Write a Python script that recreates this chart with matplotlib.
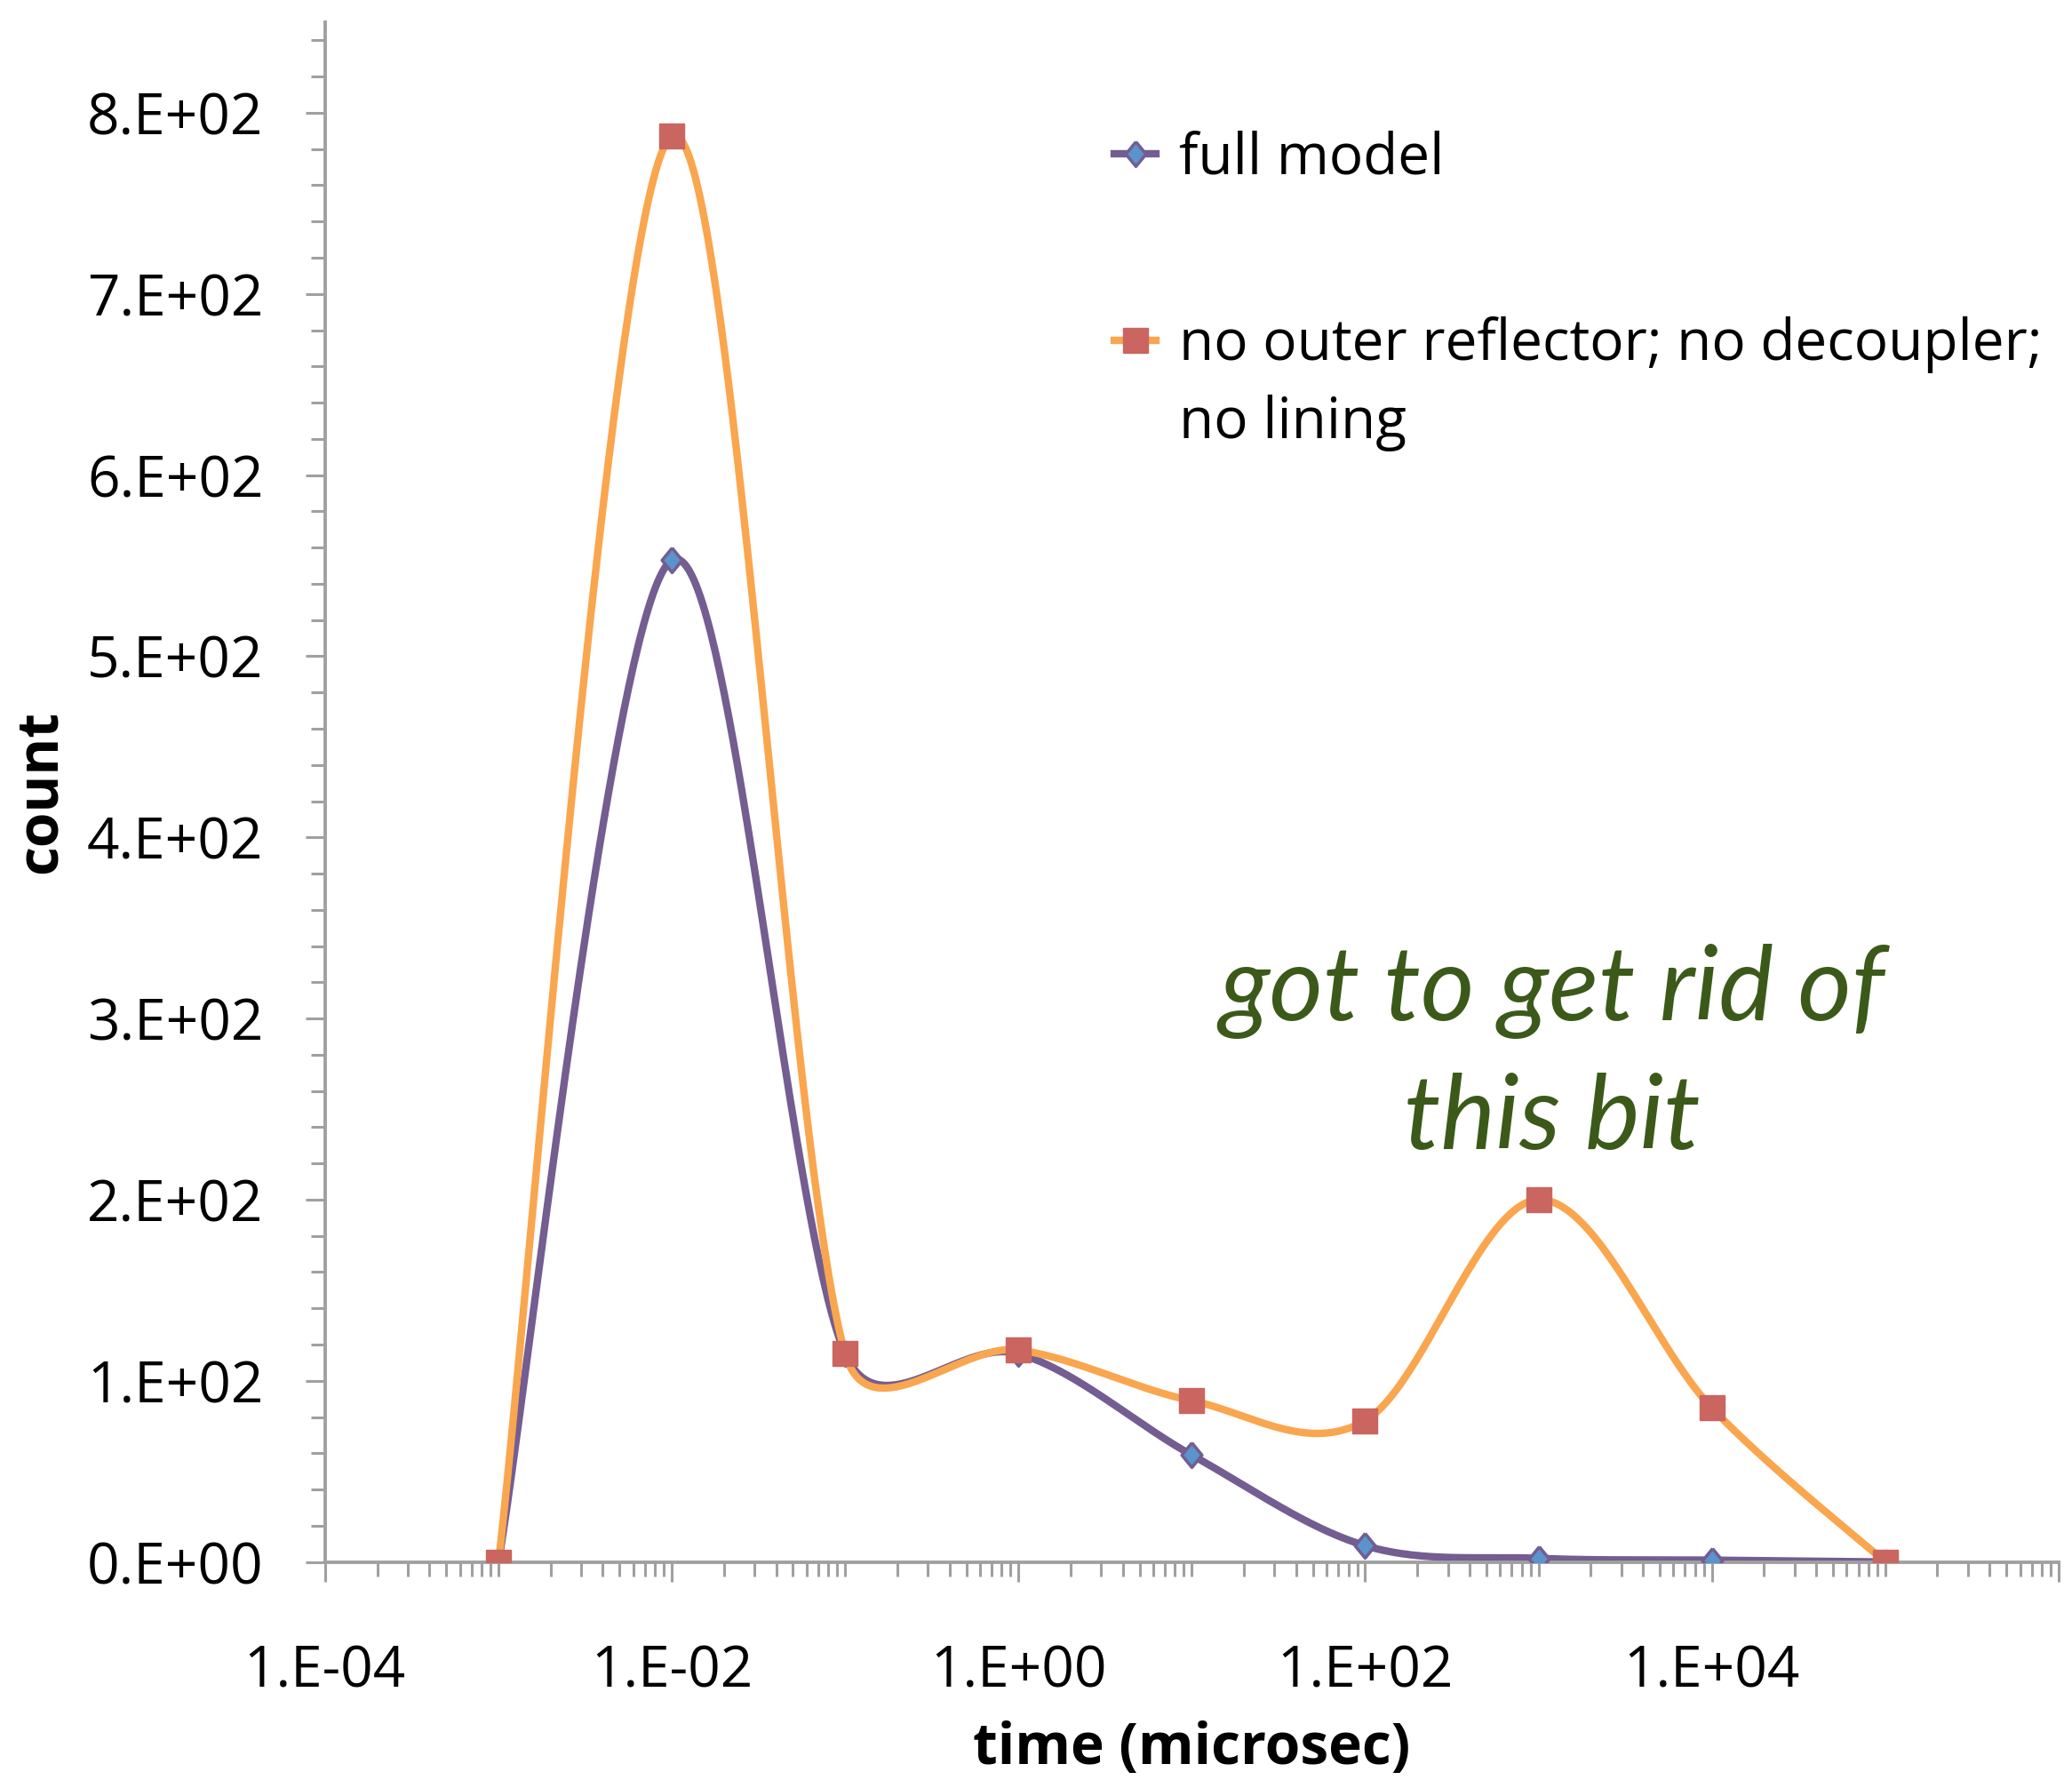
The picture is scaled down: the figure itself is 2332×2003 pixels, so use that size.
import matplotlib
matplotlib.use("Agg")
import matplotlib.pyplot as plt
import numpy as np
from matplotlib.ticker import FixedLocator, FuncFormatter, MultipleLocator
from matplotlib.lines import Line2D

# measured counts per time bin
time_us = [1e-3, 1e-2, 1e-1, 1e0, 1e1, 1e2, 1e3, 1e4, 1e5]
full_model = [0, 553, 115, 115, 59, 9, 2, 1, 0]
no_reflector = [0, 787, 115, 117, 89, 78, 200, 85, 0]

series_labels = ["full model", "no outer reflector; no decoupler;", "no lining"]
note_text = "got to get rid of\nthis bit"

purple = "#735D91"
orange = "#F9A64F"
diamond_fill = "#5B93CC"
square_fill = "#CA6560"
axis_grey = "#A0A0A0"
note_green = "#3B5A1A"

# upright diamond, a little narrower than tall
diamond = [(0, 1), (0.82, 0), (0, -1), (-0.82, 0), (0, 1)]


def smooth_curve(x, y, px_decade=195.0, px_unit=2.04, n=80):
    # Bezier smoothing in screen-like units; tangents are 1/6 of the neighbour
    # chord, capped at half the length of the segment they belong to
    pts = np.column_stack([np.log10(np.asarray(x, float)) * px_decade,
                           np.asarray(y, float) * px_unit])
    last = len(pts) - 1

    def tangent(i):
        a = pts[max(i - 1, 0)]
        b = pts[min(i + 1, last)]
        return (b - a) / 6.0

    def capped(t, seg_len):
        ln = np.hypot(*t)
        lim = 0.5 * seg_len
        return t * (lim / ln) if ln > lim else t

    out = []
    for i in range(last):
        p1, p2 = pts[i], pts[i + 1]
        seg_len = np.hypot(*(p2 - p1))
        c1 = p1 + capped(tangent(i), seg_len)
        c2 = p2 - capped(tangent(i + 1), seg_len)
        t = np.linspace(0, 1, n)[:, None]
        seg = ((1 - t) ** 3) * p1 + 3 * ((1 - t) ** 2) * t * c1 + 3 * (1 - t) * t ** 2 * c2 + t ** 3 * p2
        out.append(seg if i == 0 else seg[1:])
    out = np.vstack(out)
    return 10 ** (out[:, 0] / px_decade), out[:, 1] / px_unit


plt.rcParams["font.family"] = ["Open Sans", "DejaVu Sans"]

fig = plt.figure(figsize=(23.32, 20.03), dpi=100)
ax = fig.add_axes([0.1569, 0.1225, 0.8366, 0.8650])

for xs, ys, col in [(time_us, full_model, purple), (time_us, no_reflector, orange)]:
    sx, sy = smooth_curve(xs, ys)
    ax.plot(sx, sy, color=col, lw=6, solid_capstyle="round", zorder=2)

ax.plot(time_us, full_model, ls="none", marker=diamond, ms=20, mfc=diamond_fill,
        mec=purple, mew=2.5, zorder=3)
ax.plot(time_us, no_reflector, ls="none", marker="s", ms=20, mfc=square_fill,
        mec=square_fill, mew=1, zorder=4)

ax.set_xscale("log")
ax.set_xlim(1e-4, 1e6)
ax.set_ylim(0, 850)

ax.xaxis.set_major_locator(FixedLocator([1e-4, 1e-2, 1e0, 1e2, 1e4, 1e6]))
minor_x = [m * 10.0 ** e for e in range(-4, 6) for m in range(1, 10) if not (m == 1 and e % 2 == 0)]
ax.xaxis.set_minor_locator(FixedLocator(minor_x))


def sci_label(v, pos):
    if v == 0:
        return "0.E+00"
    e = int(np.floor(np.log10(abs(v)) + 1e-9))
    m = int(round(v / 10 ** e))
    return f"{m}.E{'+' if e >= 0 else '-'}{abs(e):02d}"


def x_label(v, pos):
    if v >= 1e6:
        return ""
    return sci_label(v, pos)


ax.xaxis.set_major_formatter(FuncFormatter(x_label))
ax.xaxis.set_minor_formatter(FuncFormatter(lambda v, p: ""))
ax.yaxis.set_major_locator(MultipleLocator(100))
ax.yaxis.set_minor_locator(MultipleLocator(20))
ax.yaxis.set_major_formatter(FuncFormatter(sci_label))

for side in ["top", "right"]:
    ax.spines[side].set_visible(False)
for side in ["left", "bottom"]:
    ax.spines[side].set_color(axis_grey)
    ax.spines[side].set_linewidth(2.8)

ax.tick_params(which="major", length=16, width=2.2, color=axis_grey, labelsize=46)
ax.tick_params(which="minor", length=11.5, width=2.2, color=axis_grey)
ax.tick_params(axis="y", which="major", pad=34)
ax.tick_params(axis="x", which="major", pad=50)

ax.set_ylabel("count", fontsize=46, fontweight="bold", labelpad=14)
ax.set_xlabel("time (microsec)", fontsize=46, fontweight="bold", labelpad=16)

# legend, two blocks so the wrapped label keeps its handle on the first line
h_full = Line2D([], [], color=purple, lw=6, marker=diamond, ms=20, mfc=diamond_fill, mec=purple, mew=2.5)
h_no = Line2D([], [], color=orange, lw=6, marker="s", ms=20, mfc=square_fill, mec=square_fill)
h_blank = Line2D([], [], color="none")

leg_kw = dict(frameon=False, fontsize=46, handlelength=0.75, handletextpad=0.4,
              borderpad=0, borderaxespad=0, loc="center left")
leg1 = ax.legend([h_full], [series_labels[0]], bbox_to_anchor=(0.455, 0.9115), **leg_kw)
ax.add_artist(leg1)
ax.legend([h_no, h_blank], series_labels[1:], bbox_to_anchor=(0.455, 0.765),
          labelspacing=0.38, **leg_kw)

ax.text(0.708, 0.329, note_text, transform=ax.transAxes, ha="center", va="center",
        fontsize=84, style="italic", color=note_green, family=["Lato", "DejaVu Sans"],
        linespacing=1.45)

fig.savefig("out.png", dpi=100, facecolor="white")
